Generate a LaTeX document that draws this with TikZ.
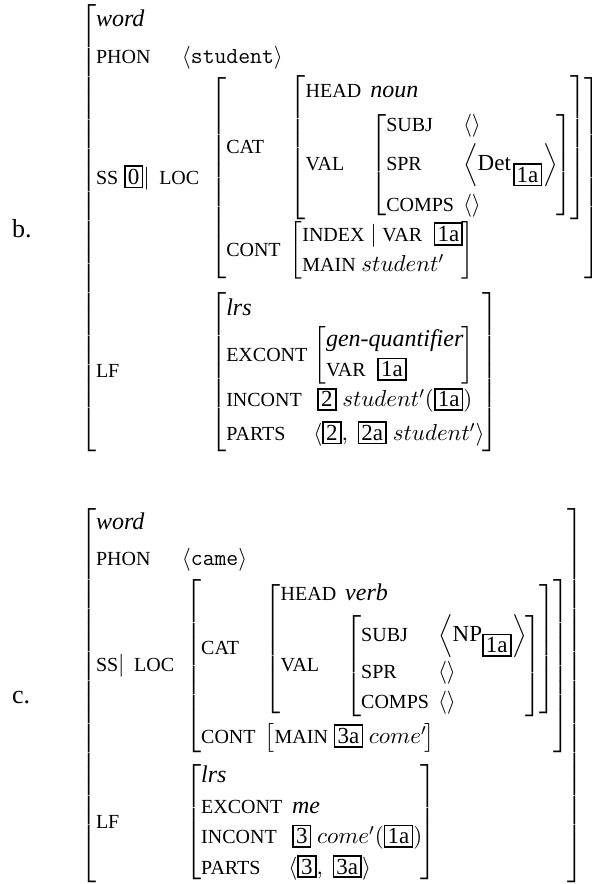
\RequirePackage{fix-cm}
\documentclass[tikz,border=0pt]{standalone}
\usepackage{fontspec}
\setmainfont{Liberation Serif}
\usepackage{amsmath}
\newcommand{\fe}[1]{\mbox{\fontsize{10pt}{12pt}\selectfont #1}}
\newcommand{\tg}[1]{\mbox{\setlength{\fboxsep}{1.1pt}\setlength{\fboxrule}{0.85pt}\fbox{#1}}}
\newcommand{\ty}[1]{\mbox{\fontsize{12pt}{14pt}\selectfont\itshape #1}}
\newcommand{\tl}[1]{\mbox{\ttfamily #1}}
\newcommand{\vsp}[1]{\noalign{\vskip #1}}
\newcommand{\avm}[1]{\left[\begin{array}{@{}l@{\hspace{4.5pt}}l@{\hspace{-1pt}}}#1\end{array}\right]}
\newcommand{\avml}[1]{\left[\begin{array}{@{}l@{\hspace{3pt}}l@{\hspace{-1pt}}}#1\end{array}\right]}
\newcommand{\avmi}[1]{\left[\begin{array}{@{}l@{\hspace{-1pt}}}#1\end{array}\right]}
\renewcommand{\arraystretch}{1.1}
\tikzset{
  avmnode/.style={inner sep=0pt, outer sep=0pt, font=\fontsize{11.5pt}{13.8pt}\selectfont},
  exlabel/.style={inner sep=0pt, outer sep=0pt, font=\fontsize{13pt}{15pt}\selectfont}
}
\begin{document}
\begin{tikzpicture}[x=0.5pt,y=-0.5pt]
\useasboundingbox (0,0) rectangle (592,884);
\node[avmnode, anchor=north west] (avmb) at (80,5) {$\left[\begin{array}{@{}l@{\hspace{5.5pt}}l@{}}
\ty{word} & \\[3.5pt]
\multicolumn{2}{@{}l@{}}{\makebox[43pt][l]{\fe{PHON}}\langle\tl{student}\rangle}\\[1.5pt]
\fe{SS}\ \tg{0}|\ \,\fe{LOC} & \avm{\fe{CAT} & \avm{\fe{HEAD} & \ty{noun}\\[2pt] \fe{VAL} & \avm{\fe{SUBJ} & \langle\rangle\\[1.5pt] \fe{SPR} & \left\langle\mbox{Det}_{\mkern2mu\tg{1a}}\right\rangle\\ \vsp{1.5pt} \fe{COMPS} & \langle\rangle}}\\ \fe{CONT} & \avmi{\fe{INDEX}\ |\ \fe{VAR}\ \ \tg{1a}\\ \fe{MAIN}\ student'}}\\ \vsp{6pt}
\fe{LF} & \avml{\ty{lrs} & \\ \fe{EXCONT} & \avmi{\ty{gen-quantifier}\\ \fe{VAR}\ \ \tg{1a}}\\ \fe{INCONT} & \,\tg{2}\ student'(\tg{1a})\\[1.5pt] \fe{PARTS} & \langle\tg{2},\ \tg{2a}\ student'\rangle}
\end{array}\right.$};
\node[exlabel, anchor=base west] (lb) at (12,237) {b.};
\node[avmnode, anchor=north west] (avmc) at (80,508) {$\left[\begin{array}{@{}l@{\hspace{5.5pt}}l@{\hspace{-1pt}}}
\ty{word} & \\[3pt]
\multicolumn{2}{@{}l@{}}{\makebox[43pt][l]{\fe{PHON}}\langle\tl{came}\rangle}\\[2.5pt]
\fe{SS}|\ \,\fe{LOC} & \avm{\fe{CAT} & \avm{\fe{HEAD} & \ty{verb}\\[2pt] \fe{VAL} & \avm{\fe{SUBJ} & \left\langle\mbox{NP}_{\tg{1a}}\right\rangle\\[1pt] \fe{SPR} & \langle\rangle\\ \fe{COMPS} & \langle\rangle}}\\ \vsp{2pt} \fe{CONT} & \avmi{\fe{MAIN}\ \tg{3a}\ come'}}\\ \vsp{4.5pt}
\fe{LF} & \avml{\ty{lrs} & \\ \fe{EXCONT} & \,\ty{me}\\ \fe{INCONT} & \,\tg{3}\ come'(\tg{1a})\\ \fe{PARTS} & \langle\tg{3},\ \tg{3a}\rangle}
\end{array}\right]$};
\node[exlabel, anchor=base west] (lc) at (12,703) {c.};
\end{tikzpicture}
\end{document}
